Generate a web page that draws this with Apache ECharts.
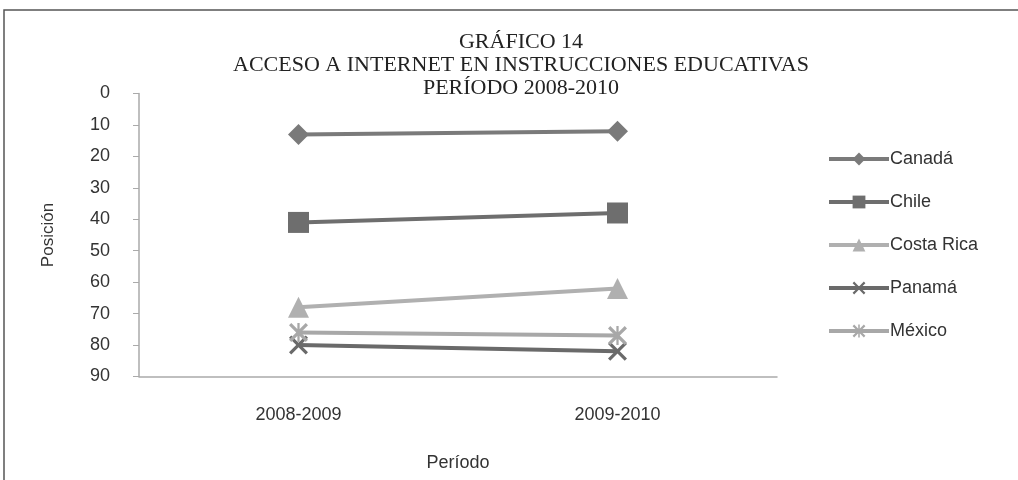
<!DOCTYPE html>
<html>
<head>
<meta charset="utf-8">
<script src="https://cdn.jsdelivr.net/npm/echarts@6/dist/echarts.min.js"></script>
<style>
  html, body { margin: 0; padding: 0; background: #fff; }
  #chartBox { width: 1018px; height: 480px; }
</style>
</head>
<body>
<div id="chartBox"></div>
<script>
// datos
var periodos = ['2008-2009', '2009-2010']
var canada = [13, 12]
var chile = [41, 38]
var costaRica = [68, 62]
var panama = [80, 82]
var mexico = [76, 77]
var titulo = ['GRÁFICO 14', 'ACCESO A INTERNET EN INSTRUCCIONES EDUCATIVAS', 'PERÍODO 2008-2010']

var cruz = 'path://M0,1.2 L1.2,0 L5,3.8 L8.8,0 L10,1.2 L6.2,5 L10,8.8 L8.8,10 L5,6.2 L1.2,10 L0,8.8 L3.8,5 Z'
var asterisco = cruz + ' M4.4,0 L5.6,0 L5.6,10 L4.4,10 Z'

function serie (name, data, color, symbol, size) {
  return {
    name: name,
    type: 'line',
    data: data,
    symbol: symbol,
    symbolSize: size,
    lineStyle: { color: color, width: 4 },
    itemStyle: { color: color },
    emphasis: { disabled: true }
  }
}

var myChart = echarts.init(document.getElementById('chartBox'))
myChart.setOption({
  animation: false,
  backgroundColor: '#fff',
  title: {
    text: titulo.join('\n'),
    left: 516,
    textAlign: 'center',
    top: 26,
    textStyle: {
      fontFamily: 'Liberation Serif',
      fontWeight: 'normal',
      fontSize: 22,
      lineHeight: 23,
      color: '#222'
    }
  },
  graphic: [{
    type: 'rect',
    shape: { x: 4, y: 10, width: 1030, height: 500 },
    style: { fill: 'none', stroke: '#555', lineWidth: 1.5 },
    silent: true
  }],
  legend: {
    orient: 'vertical',
    left: 822,
    top: 145,
    itemWidth: 60,
    itemHeight: 16,
    itemGap: 25,
    lineStyle: { width: 4 },
    textStyle: { fontFamily: 'Liberation Sans', fontSize: 18, color: '#333', padding: [0, 0, 0, -4] },
    data: ['Canadá', 'Chile', 'Costa Rica', 'Panamá', 'México']
  },
  grid: {
    left: 139,
    right: 241,
    top: 93.5,
    bottom: 103.5
  },
  xAxis: {
    type: 'category',
    data: periodos,
    name: 'Período',
    nameLocation: 'middle',
    nameGap: 78,
    nameTextStyle: { fontFamily: 'Liberation Sans', fontSize: 18, color: '#333' },
    axisLine: { onZero: false, lineStyle: { color: '#aaa', width: 1.5 } },
    axisTick: { lineStyle: { color: '#aaa' }, length: 6 },
    axisLabel: { fontFamily: 'Liberation Sans', fontSize: 18, color: '#333', margin: 30 }
  },
  yAxis: {
    type: 'value',
    inverse: true,
    min: 0,
    max: 90,
    interval: 10,
    name: 'Posición',
    nameLocation: 'middle',
    nameGap: 82,
    nameTextStyle: { fontFamily: 'Liberation Sans', fontSize: 17, color: '#333' },
    splitLine: { show: false },
    axisLine: { show: true, onZero: false, lineStyle: { color: '#aaa', width: 1.5 } },
    axisTick: { show: true, lineStyle: { color: '#aaa' }, length: 6 },
    axisLabel: { fontFamily: 'Liberation Sans', fontSize: 18, color: '#333', margin: 29 }
  },
  series: [
    serie('Canadá', canada, '#7a7a7a', 'diamond', 21),
    serie('Chile', chile, '#6e6e6e', 'rect', 21),
    serie('Costa Rica', costaRica, '#b0b0b0', 'triangle', 21),
    serie('Panamá', panama, '#6a6a6a', cruz, 19),
    serie('México', mexico, '#a8a8a8', asterisco, 19)
  ]
})
</script>
</body>
</html>
